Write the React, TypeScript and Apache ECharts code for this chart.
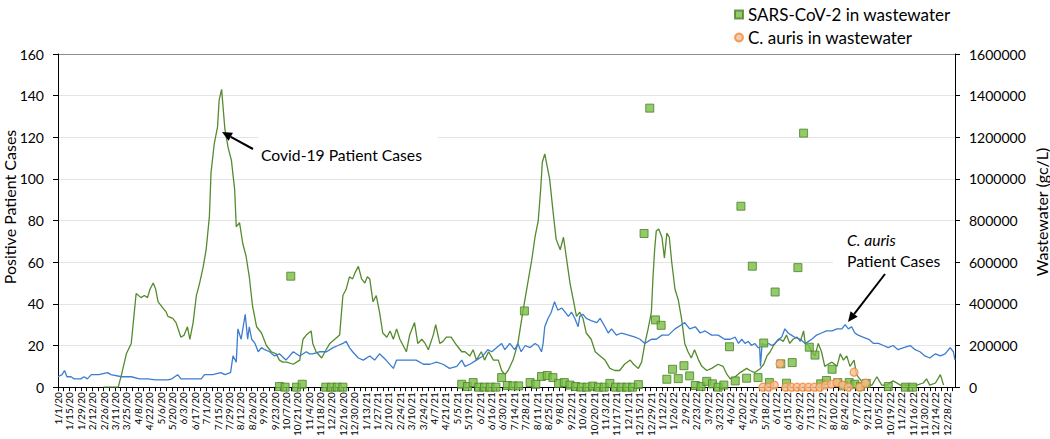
import React, { useEffect, useRef } from 'react';
import * as echarts from 'echarts';

// x values are days since 1/1/20
const START = Date.UTC(2020, 0, 1);
const DAY = 86400000;
const X_MAX = 1102;

const covidPatientCases: [number, number][] = [
  [56,0],[63,0],[70,0],[74,0],[78,6],[84,16],[90,21],[96,45],[102,43],[106,44],[110,43],[113,47],[117,50],[120,47],[123,41],[129,38],[133,36],[135,34],[141,33],[145,31],[151,24],[155,25],[159,29],[162,23],[166,31],[170,44],[174,50],[178,57],[182,66],[186,82],[188,103],[192,117],[196,125],[198,138],[201,143],[205,124],[209,115],[213,109],[217,95],[219,77],[223,79],[227,69],[231,63],[235,53],[239,39],[244,29],[250,26],[256,20],[262,17],[268,16],[272,13],[276,12],[281,12],[289,11],[297,13],[301,23],[305,25],[311,27],[313,21],[317,17],[324,14],[328,17],[334,21],[340,23],[346,25],[350,44],[354,47],[358,53],[362,52],[365,55],[369,58],[373,52],[377,50],[380,53],[383,52],[387,41],[391,44],[395,36],[399,26],[404,24],[408,27],[412,23],[416,28],[420,23],[424,20],[428,17],[432,25],[438,31],[442,21],[447,23],[451,21],[455,18],[461,25],[464,30],[469,21],[473,22],[477,24],[483,24],[490,20],[496,17],[500,17],[506,15],[510,18],[514,13],[520,17],[524,13],[529,17],[535,13],[541,13],[545,8],[549,6],[553,8],[559,13],[565,21],[571,36],[578,52],[582,61],[586,72],[590,80],[593,95],[595,108],[598,112],[601,106],[604,100],[608,85],[612,71],[617,66],[621,72],[625,61],[629,50],[633,42],[637,34],[641,36],[645,33],[649,26],[655,23],[660,17],[666,15],[672,13],[678,9],[684,8],[690,8],[696,11],[703,13],[707,11],[713,9],[717,12],[721,21],[725,28],[729,36],[731,53],[733,66],[735,75],[738,76],[742,72],[745,62],[748,74],[751,72],[754,60],[758,47],[762,42],[766,33],[770,21],[774,17],[778,14],[782,18],[787,13],[791,10],[797,8],[803,9],[811,11],[817,10],[822,6],[826,4],[832,5],[838,7],[846,9],[850,8],[856,7],[863,9],[867,11],[871,15],[875,17],[879,20],[883,22],[887,23],[891,22],[895,25],[899,21],[903,23],[908,24],[912,22],[916,27],[918,21],[922,20],[926,17],[930,15],[934,21],[938,17],[942,10],[946,11],[951,12],[957,10],[961,16],[965,13],[969,15],[973,10],[978,13],[981,6],[985,4],[989,2],[994,1],[1000,1],[1006,5],[1012,1],[1018,1],[1026,3],[1035,1],[1047,1],[1055,1],[1063,2],[1067,4],[1071,1],[1078,2],[1084,6],[1088,1]
];

const aurisPatientCases: [number, number][] = [
  [0,5],[5,6],[8,8],[11,5],[16,5],[20,4],[28,4],[32,5],[36,4],[41,6],[50,6],[61,7],[65,6],[78,5],[90,5],[100,4],[110,4],[120,3.5],[135,3.5],[140,4],[147,6],[151,4],[165,4],[176,4],[180,6],[190,6],[200,7],[205,6],[212,7],[215,15],[219,12],[221,28],[225,23],[230,35],[233,23],[235,29],[238,23],[242,21],[246,17],[250,19],[254,18],[260,17],[266,15],[272,16],[280,13],[289,17],[297,15],[305,17],[309,16],[313,16],[321,17],[330,17],[338,19],[344,20],[350,21],[354,22],[358,19],[362,17],[369,14],[375,13],[383,15],[389,13],[395,16],[403,13],[412,9],[416,13],[424,13],[432,13],[440,13],[449,11],[457,11],[465,12],[473,11],[481,9],[490,10],[496,13],[500,10],[506,11],[514,13],[522,15],[528,18],[533,17],[539,19],[545,21],[549,18],[555,21],[561,18],[565,21],[569,17],[574,20],[580,19],[586,21],[590,20],[594,17],[596,21],[598,29],[602,33],[606,36],[610,41],[614,37],[619,38],[623,36],[627,34],[631,36],[635,33],[639,29],[641,34],[645,35],[649,33],[655,32],[662,31],[666,33],[672,29],[676,26],[680,28],[686,25],[692,26],[701,25],[709,24],[715,23],[721,21],[725,22],[729,23],[735,23],[742,25],[750,25],[758,28],[766,30],[770,31],[776,28],[783,29],[789,26],[795,27],[803,25],[811,25],[819,23],[826,23],[832,24],[836,21],[840,23],[844,21],[848,22],[852,20],[856,21],[860,19],[862,19],[863,10],[865,21],[869,20],[873,21],[877,20],[881,21],[885,23],[889,24],[893,28],[897,26],[901,25],[905,24],[912,23],[918,21],[922,22],[926,23],[932,25],[938,26],[944,27],[951,27],[957,28],[963,28],[967,30],[971,28],[975,29],[979,26],[983,25],[989,24],[996,23],[1002,21],[1008,21],[1014,20],[1020,19],[1026,20],[1032,18],[1039,19],[1047,20],[1053,18],[1059,17],[1065,15],[1071,14],[1078,16],[1084,15],[1090,16],[1096,19],[1100,17],[1102,13]
];

const sarsWastewater: [number, number][] = [
  [272,3000],[279,0],[286,533000],[293,0],[300,14000],[329,0],[336,0],[343,0],[350,0],
  [496,14000],[503,3000],[510,22000],[517,0],[524,0],[531,0],[538,0],[545,46000],[552,8000],[559,6000],[566,6000],[573,366000],[580,22000],[587,14000],[594,51000],[601,56000],[608,46000],[615,18000],[622,22000],[629,10000],[636,3000],[643,0],[650,0],[657,5000],[664,0],[671,0],[678,18000],[685,0],[692,0],[699,0],[706,0],[713,12000],[720,738000],[727,1340000],[734,323000],[741,297000],[748,38000],[755,86000],[762,41000],[769,103000],[776,54000],[783,8000],[790,3000],[797,28000],[804,16000],[811,0],[818,10000],[825,194000],[832,30000],[839,869000],[846,43000],[853,581000],[860,46000],[867,212000],[874,22000],[881,457000],[888,112000],[895,19000],[902,118000],[909,574000],[916,1220000],[923,192000],[930,154000],[937,16000],[944,32000],[951,86000],[958,22000],[965,6000],[972,22000],[979,14000],[986,3000],[993,18000],[1020,3000],[1041,0],[1050,0]
];

const aurisWastewater: [number, number][] = [
  [866,0],[873,0],[880,10000],[887,113000],[894,0],[901,0],[908,0],[915,0],[922,0],[929,0],[936,0],[943,10000],[950,15000],[957,22000],[964,10000],[971,0],[978,72000],[985,0],[992,19000]
];

const LEFT_MAX = 160;
const LEFT_STEP = 20;
const RIGHT_MAX = 1600000;
const RIGHT_STEP = 200000;

const FONT = 'Lato';

function fmtDay(d: number): string {
  const dt = new Date(START + d * DAY);
  return `${dt.getUTCMonth() + 1}/${dt.getUTCDate()}/${String(dt.getUTCFullYear()).slice(2)}`;
}

function arrow(tail: [number, number], head: [number, number]) {
  const dx = head[0] - tail[0];
  const dy = head[1] - tail[1];
  const len = Math.sqrt(dx * dx + dy * dy);
  const ux = dx / len, uy = dy / len;
  const L = 10, W = 4.5;
  const bx = head[0] - ux * L, by = head[1] - uy * L;
  const nx = -uy * W, ny = ux * W;
  return [
    { type: 'line', z: 20, shape: { x1: tail[0], y1: tail[1], x2: bx, y2: by }, style: { stroke: '#000', lineWidth: 2 } },
    { type: 'polygon', z: 20, shape: { points: [[head[0], head[1]], [bx + nx, by + ny], [bx - nx, by - ny]] }, style: { fill: '#000' } },
  ];
}

export default function App() {
  const ref = useRef<HTMLDivElement>(null);
  useEffect(() => {
    if (!ref.current) return;
    const chart = echarts.init(ref.current, undefined, { renderer: 'svg' });
    const gridColors = Array.from({ length: LEFT_MAX / LEFT_STEP + 1 }, (_, i) => (i === LEFT_MAX / LEFT_STEP ? '#8c8c8c' : '#e4e4e4'));
    chart.setOption({
      animation: false,
      backgroundColor: '#fff',
      textStyle: { fontFamily: FONT },
      grid: { left: 58, right: 95, top: 54, bottom: 51, containLabel: false },
      legend: {
        orient: 'vertical',
        left: 729,
        top: 0,
        itemWidth: 8,
        itemHeight: 8,
        itemGap: 4,
        textStyle: { fontFamily: FONT, fontSize: 17, color: '#000', lineHeight: 19 },
        data: [
          { name: 'SARS-CoV-2 in wastewater', icon: 'rect' },
          { name: 'C. auris in wastewater', icon: 'circle' },
        ],
      },
      xAxis: {
        type: 'value',
        min: 0,
        max: X_MAX,
        interval: 7,
        splitLine: { show: false },
        axisLine: { show: true, lineStyle: { color: '#000', width: 1 } },
        axisTick: { show: true, length: 4, lineStyle: { color: '#000' } },
        axisLabel: {
          rotate: 90,
          margin: 5,
          fontSize: 10,
          fontFamily: FONT,
          color: '#000',
          showMaxLabel: false,
          formatter: (v: number) => (v % 14 === 0 ? fmtDay(v) : ''),
        },
      },
      yAxis: [
        {
          type: 'value',
          min: 0,
          max: LEFT_MAX,
          interval: LEFT_STEP,
          position: 'left',
          axisLine: { show: true, lineStyle: { color: '#000' } },
          axisTick: { show: true, length: 5, lineStyle: { color: '#000' } },
          axisLabel: { margin: 14, fontSize: 14, fontFamily: FONT, color: '#000' },
          splitLine: { show: true, lineStyle: { color: gridColors, width: 1 } },
        },
        {
          type: 'value',
          min: 0,
          max: RIGHT_MAX,
          interval: RIGHT_STEP,
          position: 'right',
          axisLine: { show: true, lineStyle: { color: '#000' } },
          axisTick: { show: true, length: 5, lineStyle: { color: '#000' } },
          axisLabel: { margin: 14, fontSize: 14, fontFamily: FONT, color: '#000', formatter: (v: number) => String(v) },
          splitLine: { show: false },
        },
      ],
      series: [
        {
          name: 'Covid-19 Patient Cases',
          type: 'line',
          yAxisIndex: 0,
          data: covidPatientCases,
          showSymbol: false,
          symbol: 'none',
          lineStyle: { color: '#558A2F', width: 1.3 },
          itemStyle: { color: '#558A2F' },
          z: 2,
        },
        {
          name: 'C. auris Patient Cases',
          type: 'line',
          yAxisIndex: 0,
          data: aurisPatientCases,
          showSymbol: false,
          symbol: 'none',
          lineStyle: { color: '#3C7DD0', width: 1.3 },
          itemStyle: { color: '#3C7DD0' },
          z: 3,
        },
        {
          name: 'SARS-CoV-2 in wastewater',
          type: 'scatter',
          yAxisIndex: 1,
          data: sarsWastewater,
          symbol: 'rect',
          symbolSize: 8,
          itemStyle: { color: '#78BE43', borderColor: '#4B7F2B', borderWidth: 1 },
          z: 4,
        },
        {
          name: 'C. auris in wastewater',
          type: 'scatter',
          yAxisIndex: 1,
          data: aurisWastewater,
          symbol: 'circle',
          symbolSize: 8,
          itemStyle: { color: '#F8BE93', borderColor: '#F0893B', borderWidth: 1.2 },
          z: 5,
        },
      ],
      graphic: [
        { type: 'rect', z: 1, shape: { x: 258, y: 136, width: 180, height: 36 }, style: { fill: '#fff' } },
        { type: 'rect', z: 1, shape: { x: 833, y: 228, width: 121, height: 48 }, style: { fill: '#fff' } },
        { type: 'text', z: 20, x: 261, y: 155, style: { text: 'Covid-19 Patient Cases', fontFamily: FONT, fontSize: 15.7, fill: '#000', align: 'left', verticalAlign: 'middle' } },
        ...arrow([253, 149], [222, 132]),
        { type: 'text', z: 20, x: 847, y: 240, style: { text: 'C. auris', fontFamily: FONT, fontStyle: 'italic', fontSize: 15.7, fill: '#000', align: 'left', verticalAlign: 'middle' } },
        { type: 'text', z: 20, x: 847, y: 261, style: { text: 'Patient Cases', fontFamily: FONT, fontSize: 15.7, fill: '#000', align: 'left', verticalAlign: 'middle' } },
        ...arrow([885, 274], [848, 322]),
        { type: 'text', z: 20, x: 9, y: 207, rotation: Math.PI / 2, style: { text: 'Positive Patient Cases', fontFamily: FONT, fontSize: 16, fill: '#000', align: 'center', verticalAlign: 'middle' } },
        { type: 'text', z: 20, x: 1041, y: 212, rotation: Math.PI / 2, style: { text: 'Wastewater (gc/L)', fontFamily: FONT, fontSize: 16, fill: '#000', align: 'center', verticalAlign: 'middle' } },
      ],
    });
    return () => chart.dispose();
  }, []);
  return <div ref={ref} style={{ position: 'fixed', left: 0, top: 0, width: 1050, height: 439 }} />;
}
